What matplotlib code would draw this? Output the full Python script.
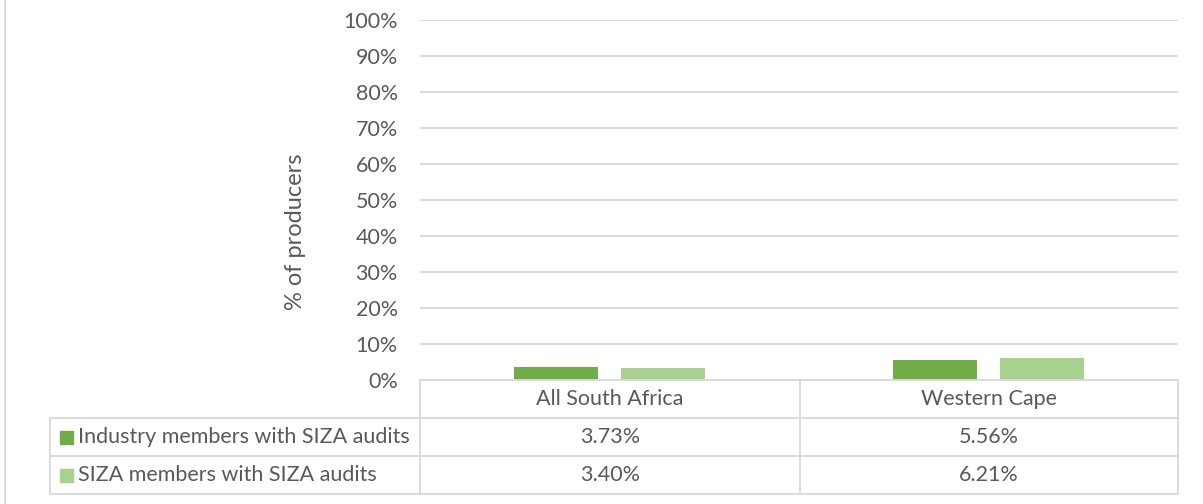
import numpy as np
import matplotlib.pyplot as plt
from matplotlib.lines import Line2D
from matplotlib.patches import Rectangle

categories = ["All South Africa", "Western Cape"]
series_names = ["Industry members with SIZA audits", "SIZA members with SIZA audits"]
industry = [3.73, 5.56]
siza = [3.40, 6.21]
series_values = [industry, siza]
colors = ["#70ad47", "#a9d18e"]
yticks = [0, 10, 20, 30, 40, 50, 60, 70, 80, 90, 100]

plt.rcParams['font.family'] = ['Lato', 'DejaVu Sans']
txt = "#595959"
grid = "#d9d9d9"
fs = 15.5

W, H = 1203, 504
fig = plt.figure(figsize=(W / 100, H / 100), dpi=100)

def fx(px):
    return px / W

def fy(py):
    return 1 - py / H

x0, x1, y0, y1 = 420, 1178, 380, 20
ax = fig.add_axes([fx(x0), fy(y0), fx(x1) - fx(x0), fy(y1) - fy(y0)])

x = np.arange(len(categories))
width = 0.221
offsets = [-0.142, 0.142]
for vals, off, c in zip(series_values, offsets, colors):
    ax.bar(x + off, vals, width=width, color=c, zorder=3)

ax.set_xlim(-0.5, len(categories) - 0.5)
ax.set_ylim(0, 100)
ax.set_yticks(yticks)
ax.set_yticklabels([f"{t}%" for t in yticks], fontsize=fs, color=txt)
ax.tick_params(axis='y', length=0, pad=16)
ax.set_xticks([])
ax.yaxis.grid(True, color=grid, linewidth=1.3)
for s in ax.spines.values():
    s.set_visible(False)
ax.set_ylabel("% of producers", fontsize=17, color=txt)
ax.yaxis.set_label_coords(-0.150, 0.411)

# data table
lc = grid
lw = 1.3
row_y = [380, 418, 456, 494]
col_x = [50, 420, 800, 1178]

def hline(y, xa, xb):
    fig.add_artist(Line2D([fx(xa), fx(xb)], [fy(y), fy(y)], color=lc, lw=lw))

def vline(xp, ya, yb):
    fig.add_artist(Line2D([fx(xp), fx(xp)], [fy(ya), fy(yb)], color=lc, lw=lw))

hline(row_y[0], col_x[1], col_x[3])
for y in row_y[1:]:
    hline(y, col_x[0], col_x[3])
vline(col_x[0], row_y[1], row_y[3])
for xp in col_x[1:]:
    vline(xp, row_y[0], row_y[3])

# outer chart border on the left
vline(5, 0, 504)

for i, cat in enumerate(categories):
    cx = (col_x[i + 1] + col_x[i + 2]) / 2
    fig.text(fx(cx), fy((row_y[0] + row_y[1]) / 2), cat, ha='center', va='center',
             fontsize=fs, color=txt)
    for r, vals in enumerate(series_values):
        fig.text(fx(cx), fy((row_y[r + 1] + row_y[r + 2]) / 2), f"{vals[i]:.2f}%",
                 ha='center', va='center', fontsize=fs, color=txt)

for r, (name, c) in enumerate(zip(series_names, colors)):
    cy = (row_y[r + 1] + row_y[r + 2]) / 2
    fig.add_artist(Rectangle((fx(60), fy(cy + 7)), fx(13), 13 / H, color=c))
    fig.text(fx(78), fy(cy), name, ha='left', va='center', fontsize=fs, color=txt)

fig.savefig("out.png", dpi=100)
